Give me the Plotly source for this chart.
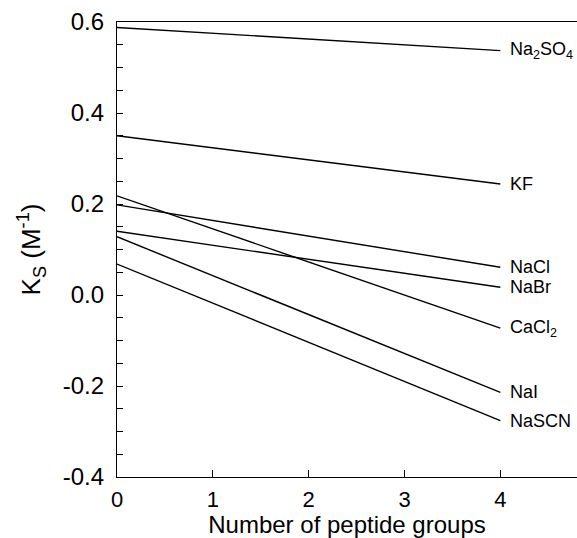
import plotly.graph_objects as go

salts = ["Na<sub>2</sub>SO<sub>4</sub>", "KF", "NaCl", "NaBr", "CaCl<sub>2</sub>", "NaI", "NaSCN"]
peptide_groups = [0, 4]
ks_at_0 = [0.588, 0.350, 0.198, 0.140, 0.218, 0.128, 0.068]
ks_at_4 = [0.537, 0.244, 0.061, 0.017, -0.073, -0.214, -0.276]

y_tickvals = [-0.4, -0.2, 0.0, 0.2, 0.4, 0.6]
y_ticktext = ["-0.4", "-0.2", "0.0", "0.2", "0.4", "0.6"]
x_tickvals = [0, 1, 2, 3, 4]

FONT = "Liberation Sans, Arial, sans-serif"

fig = go.Figure()
for name, a, b in zip(salts, ks_at_0, ks_at_4):
    fig.add_trace(go.Scatter(x=peptide_groups, y=[a, b], mode="lines",
                             line=dict(color="black", width=1.4),
                             name=name, showlegend=False, hoverinfo="skip"))
    fig.add_annotation(x=peptide_groups[-1], y=b, text=name, showarrow=False,
                       xanchor="left", yanchor="middle", xshift=8,
                       font=dict(family=FONT, size=18, color="black"))

fig.update_layout(
    width=577, height=538,
    margin=dict(l=117, r=0, t=22, b=61),
    paper_bgcolor="white", plot_bgcolor="white",
    font=dict(family=FONT, color="black"),
)
fig.update_xaxes(
    range=[0, 4.8], tickvals=x_tickvals, ticks="inside", ticklen=7, tickwidth=1,
    tickcolor="black", showline=True, linecolor="black", linewidth=1.3,
    mirror=True, showgrid=False, zeroline=False,
    tickfont=dict(size=22), ticklabelstandoff=2,
    title=dict(text="Number of peptide groups", font=dict(size=24), standoff=7),
)
fig.update_yaxes(
    range=[-0.4, 0.6], tickvals=y_tickvals, ticktext=y_ticktext,
    ticks="inside", ticklen=6, tickwidth=1, tickcolor="black",
    minor=dict(dtick=0.05, tick0=0, ticks="inside", ticklen=6, tickcolor="black", tickwidth=1),
    showline=True, linecolor="black", linewidth=1.3, mirror=False,
    showgrid=False, zeroline=False,
    tickfont=dict(size=24), ticklabelstandoff=7,
    title=dict(text="K<sub>S</sub> (M<sup>-1</sup>)", font=dict(size=26), standoff=14),
)

fig.write_html("out.html", config={"displayModeBar": False},
               post_script="document.body.style.margin='0';document.body.style.overflow='hidden';")
